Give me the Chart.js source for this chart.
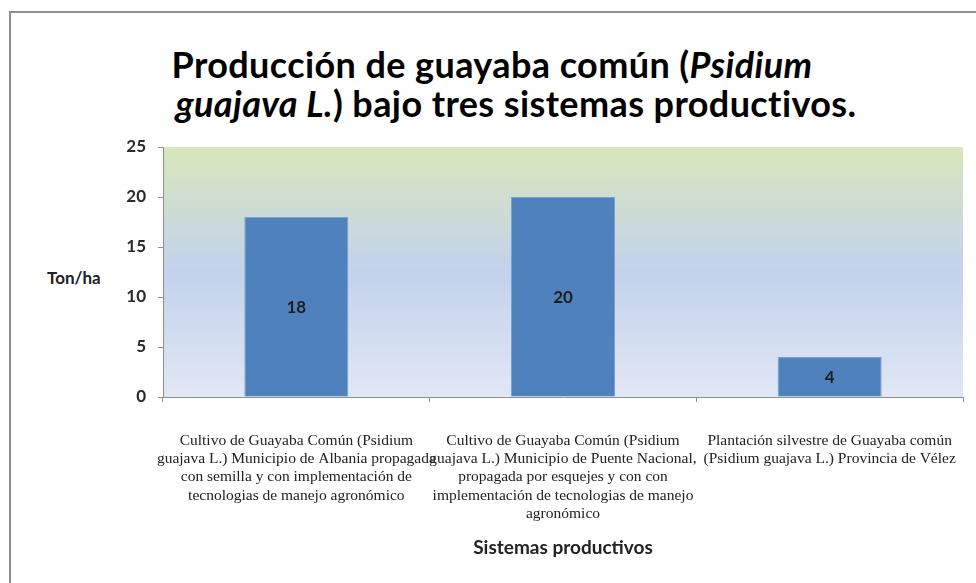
<!DOCTYPE html>
<html>
<head>
<meta charset="utf-8">
<script src="https://cdn.jsdelivr.net/npm/chart.js@4.4.0/dist/chart.umd.min.js"></script>
<style>
    body { margin: 0; background: #fff; }
    #wrap { position: relative; width: 976px; height: 583px; overflow: hidden; }
    #frame { position: absolute; left: 9px; top: 11px; width: 1000px; height: 620px;
             border-left: 2px solid #8e8e8e; border-top: 2px solid #8e8e8e; }
    #title { position: absolute; left: 0; top: 45px; width: 976px; text-align: center;
             font: bold 36px Lato, sans-serif; line-height: 39px; letter-spacing: 0.4px; color: #000; }
    #title span { display: block; position: relative; }
    #title .l1 { left: 4px; }
    #title .l2 { left: 28px; }
    #ylabel { position: absolute; left: 47px; top: 267px;
              font: bold 17px Lato, sans-serif; color: #222; }
    canvas { position: absolute; left: 0; top: 0; }
</style>
</head>
<body>
<div id="wrap">
    <div id="frame"></div>
    <div id="title">
        <span class="l1">Producción de guayaba común (<i>Psidium</i></span>
        <span class="l2"><i>guajava L.</i>) bajo tres sistemas productivos.</span>
    </div>
    <div id="ylabel">Ton/ha</div>
    <canvas id="chartGuayaba" width="976" height="583"></canvas>
</div>
<script>
// sistemas productivos (etiquetas en varias lineas, como en el original)
var categorias = [
    ['Cultivo de Guayaba Común (Psidium', 'guajava L.) Municipio de Albania propagada', 'con semilla y con implementación de', 'tecnologias de manejo agronómico'],
    ['Cultivo de Guayaba Común (Psidium', 'guajava L.) Municipio de Puente Nacional,', 'propagada por esquejes y con con', 'implementación de tecnologias de manejo', 'agronómico'],
    ['Plantación silvestre de Guayaba común', '(Psidium guajava L.) Provincia de Vélez']
];
var produccion = [18, 20, 4];   // Ton/ha
var ejeY = [0, 5, 10, 15, 20, 25];

// fondo degradado del area de trazado
var fondoPlot = {
    id: 'fondoPlot',
    beforeDraw: function(chart) {
        var a = chart.chartArea, ctx = chart.ctx;
        var g = ctx.createLinearGradient(0, a.top, 0, a.bottom);
        g.addColorStop(0, '#d9e6bb');
        g.addColorStop(0.5, '#c2d2ec');
        g.addColorStop(1, '#e1e7f5');
        ctx.save();
        ctx.fillStyle = g;
        ctx.fillRect(a.left, a.top, a.right - a.left, a.bottom - a.top);
        ctx.restore();
    }
};

// valor dentro de cada barra
var valoresBarras = {
    id: 'valoresBarras',
    afterDatasetsDraw: function(chart) {
        var ctx = chart.ctx;
        var meta = chart.getDatasetMeta(0);
        ctx.save();
        ctx.font = 'bold 17px Lato, sans-serif';
        ctx.fillStyle = '#1e1e1e';
        ctx.textAlign = 'center';
        ctx.textBaseline = 'middle';
        meta.data.forEach(function(bar, i) {
            ctx.fillText(String(produccion[i]), bar.x, (bar.y + bar.base) / 2 + 1);
        });
        ctx.restore();
    }
};

document.addEventListener('DOMContentLoaded', function() {
    new Chart(document.getElementById('chartGuayaba').getContext('2d'), {
        type: 'bar',
        data: {
            labels: categorias,
            datasets: [{
                label: 'Ton/ha',
                data: produccion,
                backgroundColor: '#4f81bd',
                borderColor: '#7a9fd0',
                borderWidth: 1,
                barPercentage: 0.39,
                categoryPercentage: 1
            }]
        },
        options: {
            responsive: false,
            animation: false,
            layout: { padding: { top: 147, right: 13, left: 0, bottom: 0 } },
            plugins: { legend: { display: false }, tooltip: { enabled: false } },
            scales: {
                x: {
                    grid: { drawOnChartArea: false, color: '#8e8e8e', tickLength: 5, offset: true },
                    border: { color: '#8e8e8e' },
                    ticks: {
                        font: { family: 'Liberation Serif', size: 15.5, lineHeight: 1.17 },
                        color: '#222',
                        padding: 30,
                        maxRotation: 0,
                        autoSkip: false
                    },
                    title: {
                        display: true,
                        text: 'Sistemas productivos',
                        font: { family: 'Lato', weight: 'bold', size: 19 },
                        color: '#222',
                        padding: { top: 0, bottom: 24 }
                    },
                    afterFit: function(scale) {
                        scale.height = 186;
                        scale.paddingLeft = 0;
                        scale.paddingRight = 0;
                    }
                },
                y: {
                    min: 0,
                    max: 25,
                    afterBuildTicks: function(scale) {
                        scale.ticks = ejeY.map(function(v) { return { value: v }; });
                    },
                    grid: { drawOnChartArea: false, color: '#8e8e8e', tickLength: 5 },
                    border: { color: '#8e8e8e' },
                    ticks: {
                        font: { family: 'Lato', weight: 'bold', size: 17 },
                        color: '#2a2a2a',
                        padding: 12
                    },
                    afterFit: function(scale) { scale.width = 163; }
                }
            }
        },
        plugins: [fondoPlot, valoresBarras]
    });
});
</script>
</body>
</html>
